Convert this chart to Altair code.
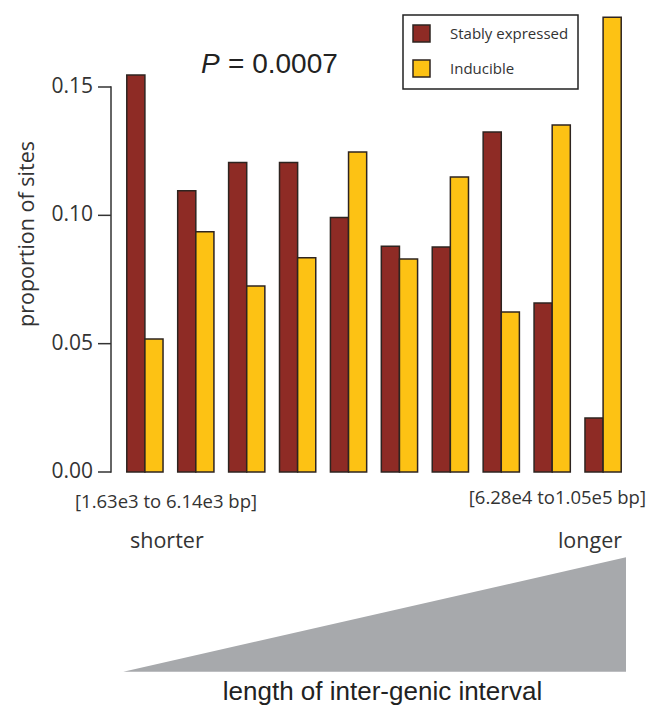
import altair as alt
import pandas as pd

# ---- data ----
bins = ["b01", "b02", "b03", "b04", "b05", "b06", "b07", "b08", "b09", "b10"]
series = ["Stably expressed", "Inducible"]
stably = [0.1547, 0.1096, 0.1206, 0.1206, 0.0992, 0.0880, 0.0877, 0.1325, 0.0658, 0.0210]
inducible = [0.0518, 0.0936, 0.0725, 0.0835, 0.1247, 0.0830, 0.1149, 0.0623, 0.1352, 0.1772]
y_ticks = [0.0, 0.05, 0.10, 0.15]
y_axis_span = [0.0, 0.15]
colors = ["#8E2B25", "#FDC214"]

y_title = ["proportion of sites"]
p_label = ["P"]
p_value = ["= 0.0007"]
left_range = ["[1.63e3 to 6.14e3 bp]"]
right_range = ["[6.28e4 to1.05e5 bp]"]
short_lbl = ["shorter"]
long_lbl = ["longer"]
x_title = ["length of inter-genic interval"]

# decorative wedge (pixel coordinates within plot)
wedge_x = [28.3, 531.0]
wedge_top = [661.7, 547.3]
wedge_bot = [661.7, 661.7]

rows = []
for b, s, i in zip(bins, stably, inducible):
    rows.append({"bin": b, "group": series[0], "value": s})
    rows.append({"bin": b, "group": series[1], "value": i})
df = pd.DataFrame(rows)

W, H = 542, 462
AX = 16          # x position of the y-axis line inside the plot
TICK = 13
TXT = "#333333"
SANS = "Open Sans"
yscale = alt.Scale(domain=[0, 0.18], nice=False)

bars = alt.Chart(df).mark_bar(stroke="#2e2420", strokeWidth=1.5).encode(
    x=alt.X("bin:N", sort=bins, axis=None,
            scale=alt.Scale(range=[AX, W], paddingInner=0.288, paddingOuter=0.31)),
    xOffset=alt.XOffset("group:N", sort=series,
                        scale=alt.Scale(paddingInner=0, paddingOuter=0)),
    y=alt.Y("value:Q", scale=yscale, axis=None),
    color=alt.Color("group:N", sort=series,
                    scale=alt.Scale(domain=series, range=colors),
                    legend=alt.Legend(title=None, orient="none",
                                      legendX=292 + AX, legendY=5,
                                      symbolType="square", symbolSize=289,
                                      symbolStrokeColor="#2e2420",
                                      symbolStrokeWidth=1.5,
                                      labelFont=SANS, labelFontSize=15,
                                      labelColor=TXT, labelOffset=19,
                                      rowPadding=12, padding=9,
                                      strokeColor="#222222")),
)

# y axis drawn from marks: line limited to 0..0.15, ticks, labels, title
axis_line = alt.Chart(pd.DataFrame({"lo": [y_axis_span[0]], "hi": [y_axis_span[1]]})).mark_rule(
    color=TXT, strokeWidth=1.5, strokeCap="square"
).encode(y=alt.Y("lo:Q", axis=None), y2="hi:Q", x=alt.value(AX))

tick_marks = alt.Chart(pd.DataFrame({"v": y_ticks})).mark_rule(
    color=TXT, strokeWidth=1.5
).encode(y=alt.Y("v:Q", axis=None), x=alt.value(AX - TICK), x2=alt.value(AX))

tick_labels = alt.Chart(pd.DataFrame({"lab": y_ticks})).mark_text(
    font=SANS, fontSize=21, align="right", baseline="middle", color=TXT
).encode(y=alt.Y("lab:Q", axis=None), x=alt.value(AX - 18),
         text=alt.Text("lab:Q", format=".2f"))

y_title_mark = alt.Chart(pd.DataFrame({"t": y_title})).mark_text(
    font=SANS, fontSize=21.5, align="center", baseline="middle", angle=270,
    color=TXT
).encode(x=alt.value(AX - 83), y=alt.value(224), text="t:N")


def label(texts, x, y, size, font=SANS, align="left"):
    return alt.Chart(pd.DataFrame({"t": texts})).mark_text(
        font=font, fontSize=size, align=align, baseline="middle", color=TXT
    ).encode(x=alt.value(x), y=alt.value(y), text="t:N")


p1 = alt.Chart(pd.DataFrame({"t": p_label})).mark_text(
    font="Liberation Sans", fontSize=28, fontStyle="italic", align="left",
    baseline="alphabetic", color="#222222"
).encode(x=alt.value(AX + 90), y=alt.value(63), text="t:N")
p2 = alt.Chart(pd.DataFrame({"t": p_value})).mark_text(
    font="Liberation Sans", fontSize=28, align="left",
    baseline="alphabetic", color="#222222"
).encode(x=alt.value(AX + 117), y=alt.value(63), text="t:N")

t_left = label(left_range, AX - 36, 492, 18.5)
t_right = label(right_range, AX + 535, 488, 18.5, align="right")
t_short = label(short_lbl, AX + 19, 531.7, 21.5)
t_long = label(long_lbl, AX + 511, 531.7, 21.5, align="right")
t_xtitle = alt.Chart(pd.DataFrame({"t": x_title})).mark_text(
    font="Liberation Sans", fontSize=26, align="center", baseline="alphabetic",
    color="#222222"
).encode(x=alt.value(AX + 271.5), y=alt.value(690), text="t:N")

wedge = alt.Chart(pd.DataFrame({"px": wedge_x, "top": wedge_top, "bot": wedge_bot})).mark_area(
    color="#A7A9AC"
).encode(
    x=alt.X("px:Q", scale=None, axis=None),
    y=alt.Y("top:Q", scale=None, axis=None),
    y2=alt.Y2("bot:Q"),
)

chart = alt.layer(
    bars, axis_line, tick_marks, tick_labels, y_title_mark, p1, p2,
    t_left, t_right, t_short, t_long, wedge, t_xtitle
).properties(
    width=W, height=H,
    autosize=alt.AutoSizeParams(type="none"),
    padding={"left": 87, "top": 2, "right": 10, "bottom": 234},
    background="white",
).configure_view(stroke=None).configure_legend(strokeWidth=1.5)

chart.save("out.html", embed_options={"renderer": "svg", "actions": False})
